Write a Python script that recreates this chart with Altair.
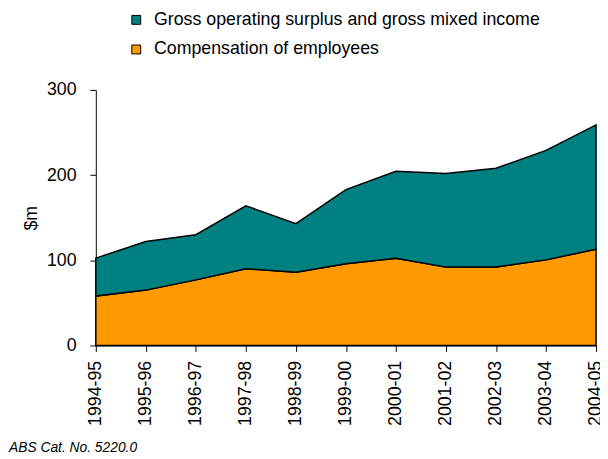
import altair as alt
import pandas as pd

periods = ["1994-95", "1995-96", "1996-97", "1997-98", "1998-99", "1999-00",
           "2000-01", "2001-02", "2002-03", "2003-04", "2004-05"]
compensation = [58, 65, 77, 90, 86, 96, 102.5, 92, 92, 100.5, 113]
gos = [44.5, 57, 53, 74, 57, 87, 102, 110, 116, 128.5, 146]
series_names = ["Gross operating surplus and gross mixed income",
                "Compensation of employees"]
series_colors = ["#008080", "#FF9900"]
y_ticks = [0, 100, 200, 300]
y_title = "$m"
caption = "ABS Cat. No. 5220.0"

rows = []
for i, p in enumerate(periods):
    rows.append({"period": p, "series": series_names[1], "value": compensation[i], "ord": 0})
    rows.append({"period": p, "series": series_names[0], "value": gos[i], "ord": 1})
df = pd.DataFrame(rows)

FONT = "Liberation Sans"

area = alt.Chart(df).mark_area(stroke="black", strokeWidth=1.5, strokeJoin="miter").encode(
    x=alt.X("period:N", sort=periods, scale=alt.Scale(type="point", padding=0),
            axis=alt.Axis(title=None, labelAngle=-90, labelFont=FONT, labelFontSize=18,
                          labelColor="black", labelPadding=9, tickSize=6,
                          tickColor="black", domainColor="black", labelFlush=False)),
    y=alt.Y("value:Q", stack="zero", scale=alt.Scale(domain=[0, 300], nice=False),
            axis=alt.Axis(values=y_ticks, title=y_title, titleFont=FONT, titleFontSize=18,
                          titleFontWeight="normal", titleColor="black", titlePadding=6,
                          labelFont=FONT, labelFontSize=18, labelColor="black",
                          labelPadding=14, tickSize=6, tickColor="black",
                          domainColor="black", grid=False)),
    color=alt.Color("series:N", scale=alt.Scale(domain=series_names, range=series_colors),
                    legend=alt.Legend(title=None, orient="none", legendX=32, legendY=-80,
                                      symbolType="square", symbolSize=81,
                                      symbolStrokeColor="black", symbolStrokeWidth=1,
                                      symbolOpacity=1, labelFont=FONT, labelFontSize=18,
                                      labelColor="black", labelOffset=9, rowPadding=12,
                                      padding=0, labelLimit=600)),
    order=alt.Order("ord:Q", sort="ascending"),
)

cap_df = pd.DataFrame({"t": [caption]})
cap = alt.Chart(cap_df).mark_text(align="left", baseline="alphabetic", font=FONT,
                                  fontSize=14, fontStyle="italic", color="black").encode(
    x=alt.value(-88), y=alt.value(367), text="t:N")

chart = alt.layer(area, cap).properties(
    width=507, height=259,
    autosize=alt.AutoSizeParams(type="none"),
    padding={"left": 89, "top": 80, "right": 4, "bottom": 110},
).configure_view(stroke=None).configure_axis(domainWidth=1, tickWidth=1)

chart.save("out.html", embed_options={"renderer": "svg", "actions": False})
